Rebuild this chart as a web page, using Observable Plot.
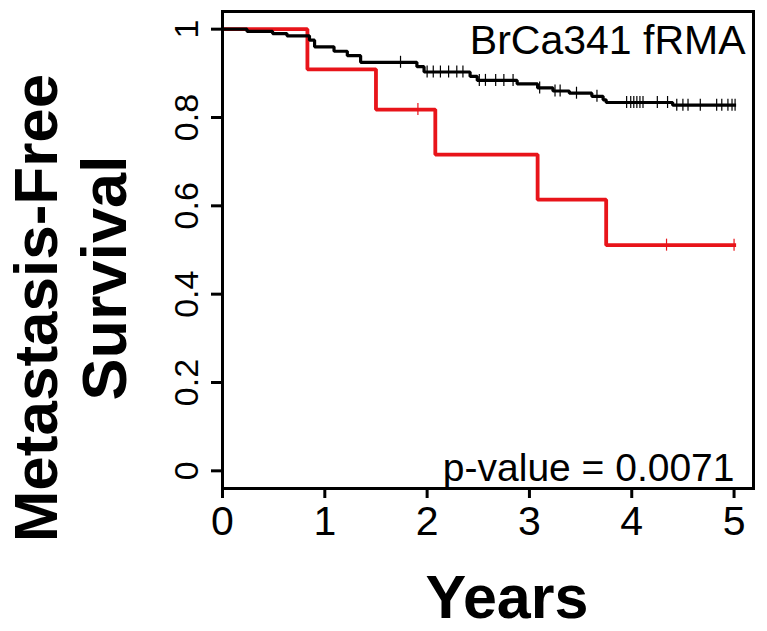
<!DOCTYPE html>
<html>
<head>
<meta charset="utf-8">
<script src="https://cdn.jsdelivr.net/npm/d3@7"></script>
<script src="https://cdn.jsdelivr.net/npm/@observablehq/plot@0.6"></script>
<style>
  html, body { margin: 0; padding: 0; background: #fff; }
  svg { display: block; font-family: "Liberation Sans", Arial, sans-serif; }
</style>
</head>
<body>
<div id="chart"></div>
<script>
// ---- data ----
const title = "BrCa341 fRMA";
const pValueLabel = "p-value = 0.0071";
const xTicks = [0, 1, 2, 3, 4, 5];
const yTicks = [0, 0.2, 0.4, 0.6, 0.8, 1];
const endTime = 5.02;

// black group: event times and survival after each step
const blackTimes = [0, 0.24, 0.49, 0.63, 0.85, 0.90, 1.09, 1.22, 1.35, 1.90, 1.97, 2.42, 2.49, 2.88, 3.08, 3.23, 3.39, 3.61, 3.72, 3.75, 4.40];
const blackSurv  = [1, 0.995, 0.990, 0.985, 0.975, 0.960, 0.950, 0.940, 0.925, 0.915, 0.903, 0.893, 0.884, 0.876, 0.867, 0.860, 0.855, 0.848, 0.840, 0.834, 0.828];
const blackCensor = [1.74, 2.00, 2.06, 2.13, 2.21, 2.29, 2.35, 2.51, 2.57, 2.67, 2.75, 2.84, 3.10, 3.25, 3.30, 3.46, 3.66, 3.95, 3.99, 4.02, 4.05, 4.08, 4.11, 4.25, 4.35, 4.44, 4.50, 4.55, 4.67, 4.83, 4.88, 4.94, 4.98, 5.01];

// red group
const redTimes = [0, 0.83, 1.50, 2.08, 3.08, 3.75];
const redSurv  = [1, 0.909, 0.818, 0.716, 0.614, 0.511];
const redCensor = [1.91, 4.34, 5.00];

// ---- build tables ----
function steps(times, surv) {
  const rows = times.map((t, i) => ({t, s: surv[i]}));
  rows.push({t: endTime, s: surv[surv.length - 1]});
  return rows;
}
function survAt(times, surv, t) {
  let s = surv[0];
  for (let i = 0; i < times.length; i++) if (times[i] <= t) s = surv[i];
  return s;
}
const blackLine = steps(blackTimes, blackSurv);
const redLine = steps(redTimes, redSurv);
const blackMarks = blackCensor.map(t => ({t, s: survAt(blackTimes, blackSurv, t)}));
const redMarks = redCensor.map(t => ({t, s: survAt(redTimes, redSurv, t)}));

const font = "Liberation Sans, Arial, sans-serif";

const chart = Plot.plot({
  width: 767,
  height: 631,
  marginLeft: 222,
  marginRight: 14,
  marginTop: 11,
  marginBottom: 143,
  style: {fontFamily: font, background: "#fff", overflow: "visible"},
  x: {domain: [0, 5.19], axis: null},
  y: {domain: [-0.04, 1.04], axis: null},
  marks: [
    // red curve (drawn beneath black)
    Plot.line(redLine, {x: "t", y: "s", curve: "step-after", stroke: "#e8141a", strokeWidth: 3.8, strokeLinejoin: "miter", strokeLinecap: "butt"}),
    Plot.ruleX(redMarks, {x: "t", y1: "s", y2: "s", insetTop: -6, insetBottom: -6, stroke: "#e8141a", strokeWidth: 1.2}),
    // black curve
    Plot.line(blackLine, {x: "t", y: "s", curve: "step-after", stroke: "#000", strokeWidth: 3.2, strokeLinejoin: "miter", strokeLinecap: "butt"}),
    Plot.ruleX(blackMarks, {x: "t", y1: "s", y2: "s", insetTop: -6, insetBottom: -6, stroke: "#000", strokeWidth: 1.2}),
    // frame
    Plot.frame({stroke: "#000", strokeWidth: 3}),
    // x axis ticks
    Plot.axisX({ticks: xTicks, tickSize: 10, strokeWidth: 3, label: null, tickFormat: () => "", stroke: "#000"}),
    // x tick labels
    Plot.text(xTicks, {x: d => d, text: d => String(d), frameAnchor: "bottom", dy: 17, lineAnchor: "top", textAnchor: "middle", fontSize: 41, fill: "#000"}),
    // y axis ticks
    Plot.axisY({ticks: yTicks, tickSize: 11, strokeWidth: 3, label: null, tickFormat: () => "", stroke: "#000"}),
    // y tick labels rotated
    Plot.text(yTicks, {y: d => d, text: d => String(d), frameAnchor: "left", dx: -25, rotate: -90, lineAnchor: "bottom", textAnchor: "middle", fontSize: 34, fill: "#000"}),
    // title in corner
    Plot.text([title], {frameAnchor: "top-right", dx: -8, dy: 13, lineAnchor: "top", textAnchor: "end", fontSize: 41, fill: "#000"}),
    // p-value
    Plot.text([pValueLabel], {frameAnchor: "bottom-right", dx: -19, dy: -8, lineAnchor: "bottom", textAnchor: "end", fontSize: 39, fill: "#000"}),
    // x axis title
    Plot.text(["Years"], {frameAnchor: "bottom", dx: 19, dy: 129, lineAnchor: "bottom", textAnchor: "middle", fontSize: 61, fontWeight: "bold", fill: "#000"}),
    // y axis title (two lines)
    Plot.text(["Metastasis-Free"], {frameAnchor: "left", dx: -166, dy: 58, lineAnchor: "bottom", textAnchor: "middle", rotate: -90, fontSize: 62, fontWeight: "bold", fill: "#000"}),
    Plot.text(["Survival"], {frameAnchor: "left", dx: -97, dy: 28, lineAnchor: "bottom", textAnchor: "middle", rotate: -90, fontSize: 63, fontWeight: "bold", fill: "#000"})
  ]
});
document.getElementById("chart").appendChild(chart);
</script>
</body>
</html>
